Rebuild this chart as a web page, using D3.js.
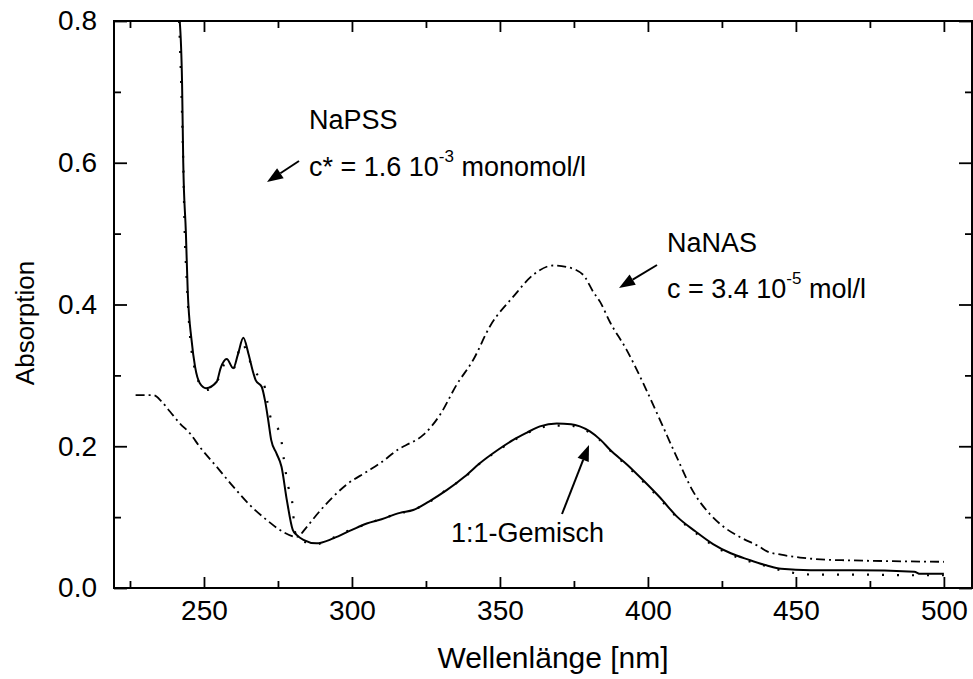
<!DOCTYPE html>
<html>
<head>
<meta charset="utf-8">
<script src="https://cdn.jsdelivr.net/npm/d3@7"></script>
<style>
    body { margin: 0; background: #fff; }
    svg text { font-family: "Liberation Sans", Arial, sans-serif; fill: #000; }
</style>
</head>
<body>
<div id="chart"></div>
<script>
// Mixture, measured (solid line)
const mixWl = [241.8, 242.6, 243.0, 243.9, 244.5, 245.8, 247.0, 248.6, 250.7, 254.3, 255.6, 257.7,
    259.9, 261.5, 263.3, 265.0, 266.7, 267.5, 269.5, 270.6, 271.7, 272.7, 274.5, 276.2, 278.0,
    280.0, 281.3, 283.6, 288.0, 293.7, 300, 305, 310, 316.2, 320.7, 326, 332, 338, 343.2, 349,
    354.5, 359, 363.5, 369.2, 374, 377, 380.4, 384, 387.2, 393, 398.4, 404, 410, 416, 422, 428,
    434, 440, 445, 455, 470, 490, 492, 500];
const mixAbs = [0.80, 0.712, 0.60, 0.50, 0.42, 0.35, 0.312, 0.289, 0.282, 0.291, 0.31, 0.323,
    0.31, 0.33, 0.353, 0.331, 0.303, 0.293, 0.284, 0.265, 0.237, 0.209, 0.19, 0.171, 0.124,
    0.082, 0.075, 0.068, 0.063, 0.070, 0.082, 0.091, 0.097, 0.106, 0.110, 0.122, 0.138, 0.157, 0.176, 0.194,
    0.209, 0.219, 0.228, 0.232, 0.231, 0.228, 0.221, 0.209, 0.195, 0.174, 0.152, 0.128, 0.100, 0.080, 0.062, 0.049,
    0.040, 0.032, 0.027, 0.025, 0.025, 0.023, 0.020, 0.020];

// Sum of the single spectra (dotted line)
const sumWl = [241.6, 242.3, 243.0, 243.5, 244.1, 245.2, 247.5, 250.3, 254, 257.5, 260, 262.7,
    266.7, 270.3, 271.5, 272.6, 275.7, 277.4, 278.5, 280.0, 280.5, 281.4, 283.6, 288, 293.7, 300,
    305, 310, 316, 321, 326, 332, 338, 343, 349, 354.5, 359, 363.5, 369, 374, 377, 380.4, 384,
    387.2, 393, 398.4, 404, 410, 416, 422, 428, 434, 440, 445, 455, 470, 490, 500];
const sumAbs = [0.80, 0.712, 0.60, 0.50, 0.44, 0.36, 0.30, 0.279, 0.288, 0.318, 0.31, 0.345,
    0.308, 0.287, 0.261, 0.239, 0.218, 0.169, 0.143, 0.115, 0.086, 0.072, 0.066, 0.062, 0.071, 0.083,
    0.090, 0.098, 0.105, 0.111, 0.121, 0.139, 0.156, 0.175, 0.193, 0.208, 0.218, 0.226, 0.229, 0.229, 0.226, 0.219, 0.208,
    0.194, 0.172, 0.150, 0.126, 0.099, 0.078, 0.060, 0.047, 0.038, 0.031, 0.025, 0.019, 0.019, 0.018, 0.018];

// NaNAS alone (dash-dot line)
const nasWl = [226.9, 232.9, 235.7, 238.5, 241.9, 245.3, 248.6, 254.3, 259.9, 265.5, 271.2, 276.8,
    281.3, 284.7, 288, 293.7, 298.2, 305, 309.5, 316.2, 318.5, 324.1, 329.7, 335.4, 341, 346.6,
    354.5, 361.3, 368, 372.5, 378.1, 381.5, 383.8, 387.2, 392.8, 398.4, 404.1, 409.7, 415.3, 421,
    426, 431.5, 437.8, 440.1, 445, 451.4, 460, 468.2, 480, 500];
const nasAbs = [0.272, 0.272, 0.263, 0.249, 0.232, 0.218, 0.199, 0.171, 0.143, 0.117, 0.096, 0.079,
    0.072, 0.086, 0.103, 0.129, 0.146, 0.164, 0.176, 0.197, 0.202, 0.216, 0.244, 0.287, 0.322, 0.369,
    0.411, 0.442, 0.455, 0.453, 0.442, 0.418, 0.404, 0.375, 0.336, 0.289, 0.237, 0.185, 0.136, 0.104,
    0.085, 0.071, 0.058, 0.052, 0.047, 0.043, 0.040, 0.039, 0.038, 0.037];

const xMajor = [250, 300, 350, 400, 450, 500];
const xMinor = [225, 275, 325, 375, 425, 475];
const yMajor = [0.0, 0.2, 0.4, 0.6, 0.8];
const yMinor = [0.1, 0.3, 0.5, 0.7];

const W = 973, H = 679;
const box = { left: 114, right: 972, top: 21, bottom: 588 };

const svg = d3.select('#chart')
    .append('svg')
    .attr('width', W)
    .attr('height', H);

const x = d3.scaleLinear().domain([219.6, 509.5]).range([box.left, box.right]);
const y = d3.scaleLinear().domain([0, 0.8]).range([box.bottom, box.top]);

svg.append('clipPath').attr('id', 'plot')
    .append('rect')
    .attr('x', box.left).attr('y', box.top)
    .attr('width', box.right - box.left).attr('height', box.bottom - box.top);

// curves
const line = d3.line()
    .x(d => x(d[0]))
    .y(d => y(d[1]))
    .curve(d3.curveMonotoneX);

const series = [
    { wl: nasWl, abs: nasAbs, dash: '9 4 2 4', width: 1.8 },
    { wl: sumWl, abs: sumAbs, dash: '2 13', width: 2.2 },
    { wl: mixWl, abs: mixAbs, dash: null, width: 2 }
];

series.forEach(s => {
    svg.append('path')
        .datum(s.wl.map((w, i) => [w, s.abs[i]]))
        .attr('clip-path', 'url(#plot)')
        .attr('fill', 'none')
        .attr('stroke', '#000')
        .attr('stroke-width', s.width)
        .attr('stroke-dasharray', s.dash)
        .attr('d', line);
});

// axes: labels on bottom/left, inward ticks on all four sides
const frame = svg.append('g');

frame.append('g')
    .attr('transform', `translate(0,${box.bottom})`)
    .call(d3.axisBottom(x).tickValues(xMajor).tickSize(-11).tickPadding(12).tickFormat(d3.format('d')));
frame.append('g')
    .attr('transform', `translate(0,${box.bottom})`)
    .call(d3.axisBottom(x).tickValues(xMinor).tickSize(-7).tickFormat(''));
frame.append('g')
    .attr('transform', `translate(0,${box.top})`)
    .call(d3.axisTop(x).tickValues(xMajor).tickSize(-11).tickFormat(''));
frame.append('g')
    .attr('transform', `translate(0,${box.top})`)
    .call(d3.axisTop(x).tickValues(xMinor).tickSize(-7).tickFormat(''));

frame.append('g')
    .attr('transform', `translate(${box.left},0)`)
    .call(d3.axisLeft(y).tickValues(yMajor).tickSize(-13).tickPadding(17).tickFormat(d3.format('.1f')));
frame.append('g')
    .attr('transform', `translate(${box.left},0)`)
    .call(d3.axisLeft(y).tickValues(yMinor).tickSize(-7).tickFormat(''));
frame.append('g')
    .attr('transform', `translate(${box.right},0)`)
    .call(d3.axisRight(y).tickValues(yMajor).tickSize(-13).tickFormat(''));
frame.append('g')
    .attr('transform', `translate(${box.right},0)`)
    .call(d3.axisRight(y).tickValues(yMinor).tickSize(-7).tickFormat(''));

frame.selectAll('.domain').remove();
frame.selectAll('line').attr('stroke', '#000').attr('stroke-width', 1.8);
frame.selectAll('text').style('font-size', '28px');

svg.append('rect')
    .attr('x', box.left).attr('y', box.top)
    .attr('width', box.right - box.left).attr('height', box.bottom - box.top)
    .attr('fill', 'none')
    .attr('stroke', '#000')
    .attr('stroke-width', 2);

// axis titles
svg.append('text')
    .attr('x', 553)
    .attr('y', 668)
    .attr('text-anchor', 'middle')
    .style('font-size', '30px')
    .text('Wellenlänge [nm]');

svg.append('text')
    .attr('transform', 'translate(34,323) rotate(-90)')
    .attr('text-anchor', 'middle')
    .style('font-size', '26px')
    .text('Absorption');

// annotations
function label(xp, yp, parts) {
    const t = svg.append('text').attr('x', xp).attr('y', yp).style('font-size', '27px');
    parts.forEach(p => {
        t.append('tspan')
            .attr('dy', p.dy || 0)
            .style('font-size', p.sup ? '17px' : '27px')
            .text(p.text);
    });
}

label(309, 129, [{ text: 'NaPSS' }]);
label(309, 176, [{ text: 'c* = 1.6 10' }, { text: '-3', sup: true, dy: -14 }, { text: ' monomol/l', dy: 14 }]);
label(667, 252, [{ text: 'NaNAS' }]);
label(667, 298, [{ text: 'c = 3.4 10' }, { text: '-5', sup: true, dy: -14 }, { text: ' mol/l', dy: 14 }]);
label(451, 542, [{ text: '1:1-Gemisch' }]);

function arrow(x1, y1, x2, y2) {
    const ang = Math.atan2(y2 - y1, x2 - x1);
    const len = 16, half = 6;
    const bx = x2 - len * Math.cos(ang), by = y2 - len * Math.sin(ang);
    svg.append('line')
        .attr('x1', x1).attr('y1', y1).attr('x2', bx).attr('y2', by)
        .attr('stroke', '#000').attr('stroke-width', 2);
    const px = -Math.sin(ang) * half, py = Math.cos(ang) * half;
    svg.append('path')
        .attr('d', `M${x2},${y2}L${bx + px},${by + py}L${bx - px},${by - py}Z`)
        .attr('fill', '#000');
}

arrow(299, 161, 267, 182);
arrow(657, 265, 619, 288);
arrow(562, 514, 589, 445);
</script>
</body>
</html>
